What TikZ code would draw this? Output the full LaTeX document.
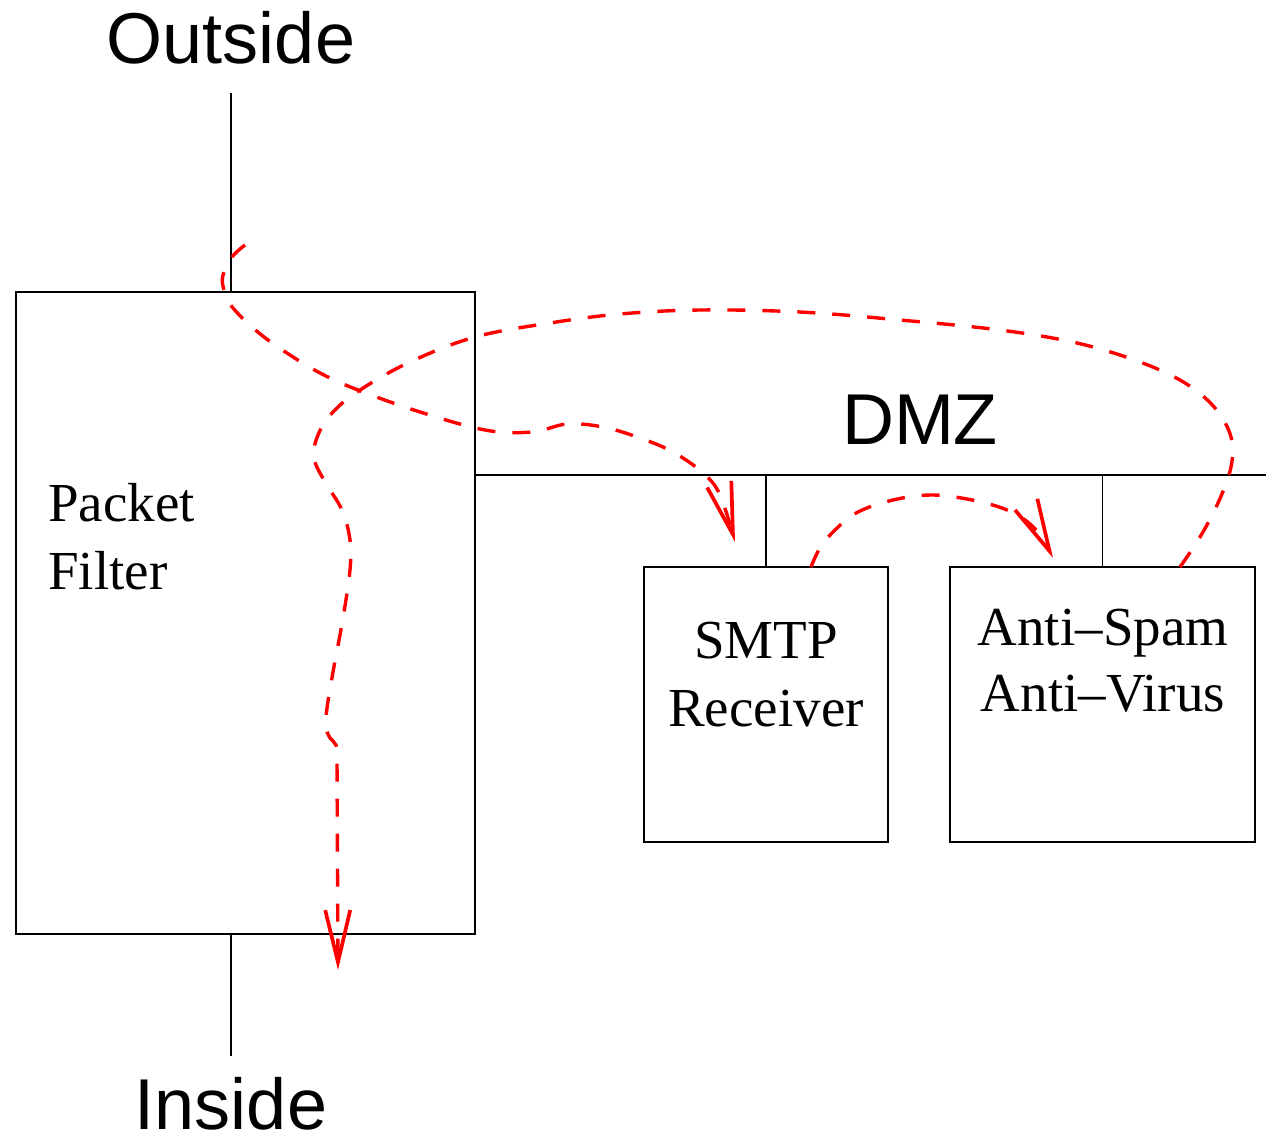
\documentclass[tikz,border=0pt]{standalone}
\usepackage{fontspec}
\setmainfont{Liberation Serif}
\newfontfamily\labelsans{Liberation Sans}
\usetikzlibrary{arrows.meta}
\begin{document}
\begin{tikzpicture}[x=1pt,y=-1pt,
  box/.style={draw, line width=1.3pt, inner sep=0pt, outer sep=0pt},
  wire/.style={line width=1.3pt},
  big/.style={font=\labelsans\fontsize{72}{86}\selectfont, inner sep=0pt, anchor=base},
  lbl/.style={font=\fontsize{55}{66}\selectfont, inner sep=0pt, anchor=base},
  flow/.style={draw=red, line width=3.4pt, dash pattern=on 18pt off 17pt,
    -{Straight Barb[length=52pt,width=25pt,line width=3.7pt]}}]
\useasboundingbox (0,0) rectangle (1266,1141);

% boxes
\node[box, minimum width=459pt, minimum height=642pt] (pf) at (245.5,613) {};
\node[box, minimum width=244pt, minimum height=275pt] (smtp) at (766,704.5) {};
\node[box, minimum width=305pt, minimum height=275pt] (av) at (1102.5,704.5) {};

% texts
\node[big] (outside) at (231,63) {Outside};
\node[big] (inside) at (231,1129) {Inside};
\node[big] (dmz) at (920,444) {DMZ};
\node[lbl, anchor=base west] (pf1) at (48,521) {Packet};
\node[lbl, anchor=base west] (pf2) at (48,589) {Filter};
\node[lbl] (sm1) at (766,658) {SMTP};
\node[lbl] (sm2) at (766,726) {Receiver};
\node[lbl] (av1) at (1103,645) {Anti–Spam};
\node[lbl] (av2) at (1103,711) {Anti–Virus};

% network lines
\coordinate (otop) at (231,93);
\coordinate (ibot) at (231,1056);
\coordinate (dmzend) at (1266,475);
\draw[wire] (otop) -- (otop |- pf.north);
\draw[wire] (pf.south -| ibot) -- (ibot);
\draw[wire] (pf.east |- dmzend) -- (dmzend);
\draw[wire] (smtp.north) -- (smtp.north |- dmzend);
\draw[wire] (av.north) -- (av.north |- dmzend);

% flows
\coordinate (f1s) at (245,245);
\coordinate (f1e) at (735,542);
\coordinate (f2s) at (811,567);
\coordinate (f2e) at (1053,558);
\coordinate (f3s) at (1180,567);
\coordinate (f3e) at (338,970);

\draw[flow] plot[smooth, tension=0.6] coordinates {(f1s) (232,257) (223,275) (224,290) (233,308) (259,333) (290,355) (322,374) (358,390) (417,411) (485,430) (532,432) (567,424) (603,427) (640,438) (673,452) (703,473) (720,495) (f1e)};

\draw[flow] plot[smooth, tension=0.6] coordinates {(f2s) (820,548) (835,530) (858,512) (893,500) (930,495) (967,499) (1002,508) (1025,520) (1040,535) (f2e)};

\draw[flow] plot[smooth, tension=0.6] coordinates {(f3s) (1200,537) (1218,503) (1231,467) (1231,437) (1215,408) (1185,383) (1140,362) (1077,343) (1000,330) (900,320) (800,312) (700,310) (620,314) (550,323) (475,337) (410,362) (360,390) (333,412) (318,435) (314,458) (325,482) (342,510) (350,540) (350,570) (343,618) (333,672) (327,708) (326,727) (330,738) (336,745) (337,760)} -- (f3e);
\end{tikzpicture}
\end{document}
